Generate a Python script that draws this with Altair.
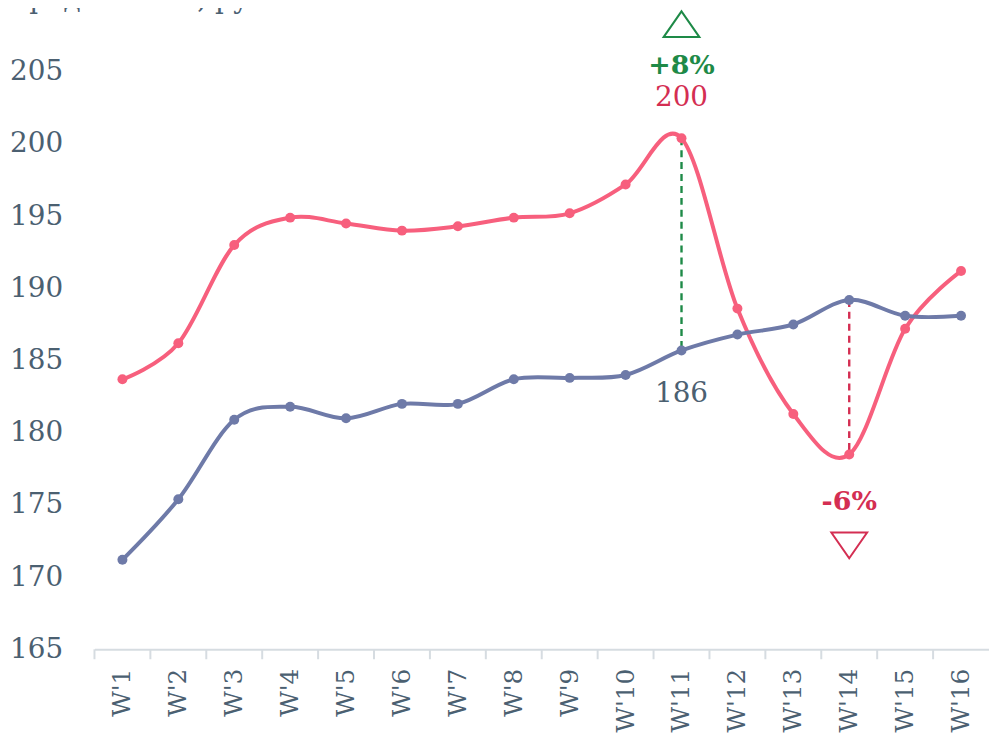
import altair as alt
import pandas as pd

weeks = ["W'1", "W'2", "W'3", "W'4", "W'5", "W'6", "W'7", "W'8",
         "W'9", "W'10", "W'11", "W'12", "W'13", "W'14", "W'15", "W'16"]
current = [183.7, 186.2, 193.0, 194.9, 194.5, 194.0, 194.3, 194.9,
           195.2, 197.2, 200.4, 188.6, 181.3, 178.5, 187.2, 191.2]
previous = [171.2, 175.4, 180.9, 181.8, 181.0, 182.0, 182.0, 183.7,
            183.8, 184.0, 185.7, 186.8, 187.5, 189.2, 188.1, 188.1]
y_ticks = [165, 170, 175, 180, 185, 190, 195, 200, 205]

title_text = "Средний чек, руб"

# annotations
txt_week = ["W'11", "W'11", "W'11", "W'14"]
txt_value = [205.4, 203.2, 182.7, 175.2]
txt_label = ["+8%", "200", "186", "-6%"]
txt_color = ["#1E8A47", "#D42E52", "#4B6071", "#D42E52"]
txt_bold = [True, False, False, True]

tri_week = ["W'11", "W'14"]
tri_value = [208.3, 172.2]
tri_color = ["#1E8A47", "#D42E52"]

FONT = "DejaVu Serif"
LABEL_COLOR = "#4B6071"
PINK = "#F75F7D"
BLUE = "#6E7AA8"

df = pd.DataFrame({
    "week": weeks * 2,
    "value": current + previous,
    "series": ["current"] * len(weeks) + ["previous"] * len(weeks),
})

i11 = weeks.index("W'11")
i14 = weeks.index("W'14")
gaps = pd.DataFrame({
    "week": ["W'11", "W'14"],
    "y1": [current[i11], previous[i14]],
    "y2": [previous[i11], current[i14]],
    "color": ["#1E8A47", "#D42E52"],
})

ann = pd.DataFrame({"week": txt_week, "value": txt_value, "label": txt_label,
                    "color": txt_color, "bold": txt_bold})
tri = pd.DataFrame({"week": tri_week, "value": tri_value, "color": tri_color})
ticks = pd.DataFrame({"week": weeks})

xscale = alt.Scale(domain=weeks, paddingInner=0, paddingOuter=0)
yscale = alt.Scale(domain=[165, 205], nice=False, zero=False)

x_enc = alt.X("week:N", scale=xscale, sort=weeks, title=None,
              axis=alt.Axis(labelAngle=-90, labelFont=FONT, labelFontSize=25,
                            labelColor=LABEL_COLOR, labelAlign="right",
                            labelBaseline="middle", labelPadding=19,
                            ticks=False, domainColor="#D6DCE1", domainWidth=2))
y_enc = alt.Y("value:Q", scale=yscale, title=None,
              axis=alt.Axis(values=y_ticks, labelFont=FONT, labelFontSize=28,
                            labelColor=LABEL_COLOR, labelPadding=32, ticks=False,
                            domain=False, grid=False))

color_scale = alt.Scale(domain=["current", "previous"], range=[PINK, BLUE])

lines = alt.Chart(df).mark_line(interpolate="cardinal", strokeWidth=4).encode(
    x=x_enc, y=y_enc,
    color=alt.Color("series:N", scale=color_scale, legend=None),
)
points = alt.Chart(df).mark_point(filled=True, size=100, opacity=1).encode(
    x=alt.X("week:N", scale=xscale, sort=weeks),
    y=alt.Y("value:Q", scale=yscale),
    color=alt.Color("series:N", scale=color_scale, legend=None),
)

xtick = alt.Chart(ticks).mark_rule(color="#D6DCE1", strokeWidth=2).encode(
    x=alt.X("week:N", scale=xscale, sort=weeks, bandPosition=0),
    y=alt.value(581), y2=alt.value(591),
)

gap_rules = alt.Chart(gaps).mark_rule(strokeDash=[7, 5], strokeWidth=2.4).encode(
    x=alt.X("week:N", scale=xscale, sort=weeks),
    y=alt.Y("y1:Q", scale=yscale),
    y2="y2:Q",
    color=alt.Color("color:N", scale=None),
)


def text_layer(bold):
    return alt.Chart(ann).transform_filter(
        alt.datum.bold if bold else ~alt.datum.bold
    ).mark_text(font=FONT, fontSize=27 if bold else 28, baseline="middle", align="center",
                fontWeight="bold" if bold else "normal").encode(
        x=alt.X("week:N", scale=xscale, sort=weeks),
        y=alt.Y("value:Q", scale=yscale),
        text="label:N",
        color=alt.Color("color:N", scale=None),
    )


tris = alt.Chart(tri).mark_point(filled=False, strokeWidth=2, size=1296, opacity=1).encode(
    x=alt.X("week:N", scale=xscale, sort=weeks),
    y=alt.Y("value:Q", scale=yscale),
    color=alt.Color("color:N", scale=None),
    shape=alt.Shape("color:N", scale=alt.Scale(
        domain=tri_color,
        range=["M0,-0.72L1,0.72L-1,0.72Z", "M0,0.72L1,-0.72L-1,-0.72Z"]), legend=None),
)

title_mark = alt.Chart(pd.DataFrame({"t": [title_text]})).mark_text(
    font=FONT, fontSize=28, align="left", baseline="alphabetic", color=LABEL_COLOR
).encode(x=alt.value(-87), y=alt.value(-64), text="t:N")

chart = alt.layer(xtick, gap_rules, lines, points, text_layer(True),
                  text_layer(False), tris, title_mark).properties(
    width=900, height=581,
    padding={"left": 87, "top": 62, "right": 0, "bottom": 84},
    autosize="none",
).configure_view(stroke=None)

chart.save("out.html", embed_options={"renderer": "svg", "actions": False})
